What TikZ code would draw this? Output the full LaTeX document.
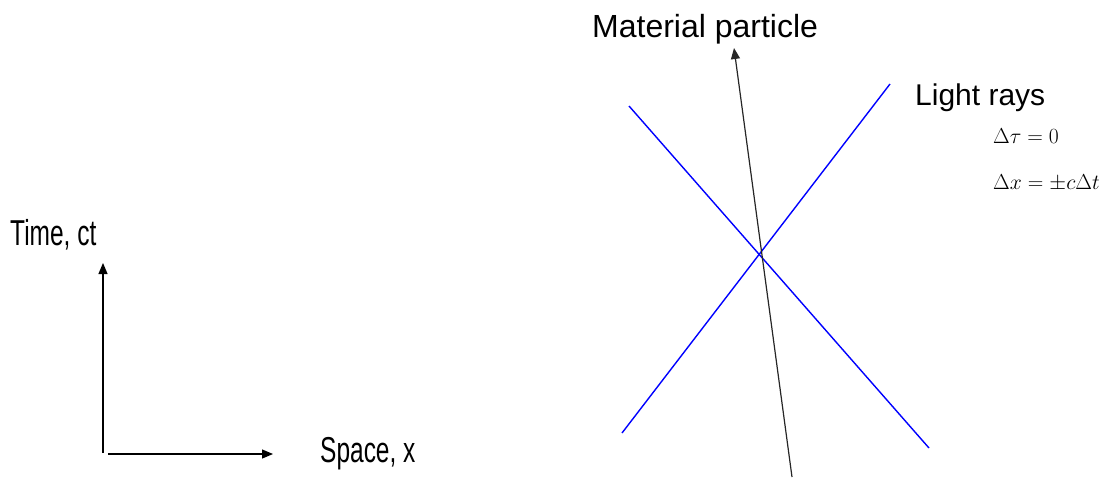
\RequirePackage{fix-cm}
\documentclass[tikz,border=0pt]{standalone}
\usepackage[no-math]{fontspec}
\setmainfont{Liberation Sans}
\newfontfamily\narrowfont[FakeStretch=0.68]{Liberation Sans}
\usetikzlibrary{arrows.meta}

\begin{document}
\begin{tikzpicture}[
    x=1pt, y=-1pt,
    lbl/.style={inner sep=0pt, anchor=base west},
    axislbl/.style={lbl, font=\narrowfont\fontsize{36}{40}\selectfont},
    eqn/.style={lbl, font=\fontsize{21.6}{24}\selectfont},
    arr/.style={-{Triangle[length=11pt,width=9pt]}, line width=1.2pt},
    ray/.style={blue, line width=1.4pt},
]
\useasboundingbox (0,0) rectangle (1111,477);

\node[axislbl] (timelbl) at (10,245) {Time, ct};
\node[axislbl] (spacelbl) at (320,462) {Space, x};
\node[lbl, font=\fontsize{32}{36}\selectfont] (particlelbl) at (592,37) {Material particle};
\node[lbl, font=\fontsize{30}{34}\selectfont] (lightlbl) at (915,105) {Light rays};
\node[eqn] (eqtau) at (993,143) {$\Delta\tau = 0$};
\node[eqn] (eqx) at (993,189) {$\Delta x = \pm c\Delta t$};

\coordinate (taxis0) at (103,453);
\coordinate (taxis1) at (103,263);
\coordinate (xaxis0) at (108,454);
\coordinate (xaxis1) at (273,454);
\coordinate (ptail) at (792,477);
\coordinate (phead) at (734,48);
\coordinate (rayA0) at (629,106);
\coordinate (rayA1) at (929,448);
\coordinate (rayB0) at (622,433);
\coordinate (rayB1) at (890,84);

\draw[arr] (taxis0) -- (taxis1);
\draw[arr] (xaxis0) -- (xaxis1);
\draw[ray] (rayA0) -- (rayA1);
\draw[ray] (rayB0) -- (rayB1);
\draw[arr, black!85] (ptail) -- (phead);
\end{tikzpicture}
\end{document}
